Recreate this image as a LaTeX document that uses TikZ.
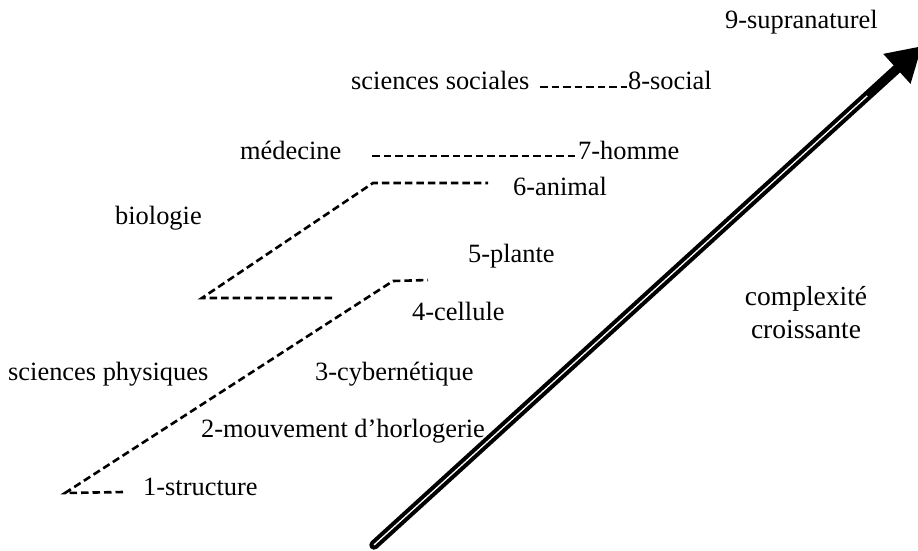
\documentclass[tikz,border=0pt]{standalone}
\usepackage{fontspec}
\setmainfont{Liberation Serif}
\usetikzlibrary{arrows.meta,calc}
\begin{document}
\begin{tikzpicture}[x=1pt,y=-1pt,
  lbl/.style={inner sep=0pt,anchor=base west,font=\fontsize{26.4}{29}\selectfont},
  dashline/.style={line width=2.6pt,dash pattern=on 7.5pt off 4pt},
  bigarrow/.style={line width=9.5pt,line cap=round,-{Triangle[length=34pt,width=38pt]}}]
\useasboundingbox (0,0) rectangle (918,550);

% levels of complexity
\node[lbl] (n9) at (725,28) {9-supranaturel};
\node[lbl] (ss) at (351,89) {sciences sociales};
\node[lbl] (n8) at (628,89) {8-social};
\node[lbl] (med) at (240,159) {médecine};
\node[lbl] (n7) at (578,159) {7-homme};
\node[lbl] (n6) at (513,195) {6-animal};
\node[lbl] (bio) at (115,224) {biologie};
\node[lbl] (n5) at (468,262) {5-plante};
\node[lbl] (n4) at (412,320) {4-cellule};
\node[lbl] (sp) at (8,380) {sciences physiques};
\node[lbl] (n3) at (315,380) {3-cybernétique};
\node[lbl] (n2) at (201,437) {2-mouvement d’horlogerie};
\node[lbl] (n1) at (143,495) {1-structure};
\node[lbl,anchor=base,font=\fontsize{27.5}{30}\selectfont] (cx) at (806,305) {complexité};
\node[lbl,anchor=base,font=\fontsize{27.5}{30}\selectfont] (cr) at (806,338) {croissante};

% dashed brackets grouping the levels
\coordinate (a1) at (123,492);
\coordinate (a2) at (65,493);
\coordinate (a3) at (393,281);
\coordinate (a4) at (428,280);
\draw[dashline] (a1) -- (a2) -- (a3) -- (a4);

\coordinate (b1) at (332,298);
\coordinate (b2) at (202,298);
\coordinate (b3) at (373,183);
\coordinate (b4) at (488,183);
\draw[dashline] (b1) -- (b2) -- (b3) -- (b4);

\coordinate (c1) at (372,156);
\coordinate (c2) at (577,156);
\draw[dashline] (c1) -- (c2);

\coordinate (d1) at (540,87);
\coordinate (d2) at (627,87);
\draw[dashline] (d1) -- (d2);

% arrow of increasing complexity
\coordinate (s) at (374,545);
\coordinate (e) at (922,46);
\draw[bigarrow] (s) -- (e);
\draw[white,line width=1.3pt] (s) -- ($(s)!0.9!(e)$);
\end{tikzpicture}
\end{document}
